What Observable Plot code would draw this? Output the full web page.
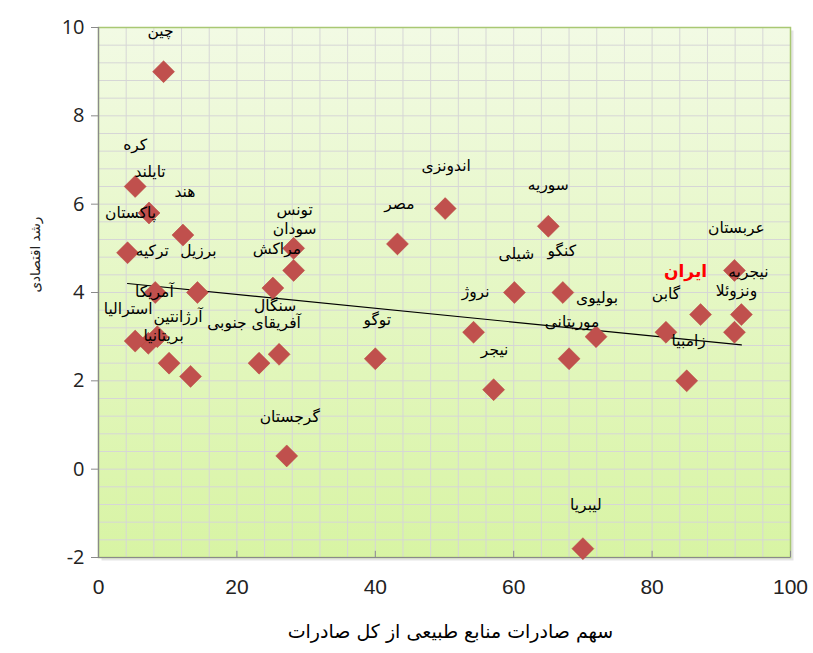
<!DOCTYPE html>
<html>
<head>
<meta charset="utf-8">
<script src="https://cdn.jsdelivr.net/npm/d3@7"></script>
<script src="https://cdn.jsdelivr.net/npm/@observablehq/plot@0.6"></script>
<style>
  html, body { margin: 0; padding: 0; background: #ffffff; }
  #chart svg { display: block; }
</style>
</head>
<body>
<div id="chart"></div>
<script>
// ---- data ----
const countries = ["چین","کره","تایلند","پاکستان","هند","ترکیه","برزیل","تونس","سودان","مراکش",
  "سنگال","آفریقای جنوبی","آرژانتین","بریتانیا","آمریکا","استرالیا","","گرجستان","توگو","مصر",
  "اندونزی","نروژ","نیجر","سوریه","شیلی","کنگو","بولیوی","موریتانی","لیبریا","عربستان",
  "نیجریه","ونزوئلا","ایران","گابن","زامبیا"];
const exportShare = [9.4,5.3,7.3,4.2,12.2,8.2,14.3,28.2,28.2,25.2,
  26.1,23.2,10.2,13.3,7.2,5.3,8.5,27.2,40.0,43.2,
  50.1,54.2,57.1,65.0,60.1,67.1,71.9,68.0,70.0,91.9,
  92.9,91.9,87.0,82.0,85.0];
const growth = [9.0,6.4,5.8,4.9,5.3,4.0,4.0,5.0,4.5,4.1,
  2.6,2.4,2.4,2.1,2.85,2.9,3.0,0.3,2.5,5.1,
  5.9,3.1,1.8,5.5,4.0,4.0,3.0,2.5,-1.8,4.5,
  3.5,3.1,3.5,3.1,2.0];
// label offsets (pixels) from each point, as placed in the reference
const labelDx = [-3,0,1,3,2,-3,1,1,1,4, -4,-5,9,-27,6,-7,0,3,2,2, 1,2,1,0,2,-1,1,3,3,2, 7,2,-15,0,2];
const labelDy = [-41,-41,-41,-40,-43,-41,-41,-38,-41,-39, -48,-40,-46,-40,-51,-32,-40,-39,-39,-40, -43,-40,-40,-41,-38,-41,-39,-37,-44,-42, -43,-41,-43,-38,-40];
const xTicks = [0,20,40,60,80,100];
const yTicks = [-2,0,2,4,6,8,10];
const xTitle = "سهم صادرات منابع طبیعی از کل صادرات";
const yTitle = "رشد اقتصادی";
const highlight = "ایران";

const data = countries.map((c, i) => ({country: c, x: exportShare[i], y: growth[i], dx: labelDx[i], dy: labelDy[i]}));

const xDomain = [0, 100], yDomain = [-2, 10];
const arabicFont = "'DejaVu Sans', 'Noto Sans', sans-serif";

const labelMarks = data.filter(d => d.country).map(d => Plot.text([d], {
  x: "x", y: "y", text: "country", dx: d.dx, dy: d.dy,
  fontSize: d.country === highlight ? 17 : 15.5,
  fontWeight: d.country === highlight ? "bold" : "normal",
  fill: d.country === highlight ? "#ff0000" : "#000000",
  fontFamily: arabicFont
}));

const chart = Plot.plot({
  width: 813, height: 653,
  marginLeft: 98, marginRight: 23, marginTop: 27, marginBottom: 96,
  x: {domain: xDomain},
  y: {domain: yDomain},
  style: {background: "transparent", fontFamily: arabicFont},
  marks: [
    Plot.frame({fill: "#000", fillOpacity: 0.10, dx: 3, dy: 3}),
    Plot.frame({fill: "url(#plotbg)"}),
    Plot.ruleX(d3.range(4, 100, 4), {stroke: "#d6d6d6", strokeWidth: 1}),
    Plot.ruleY(d3.range(-1.6, 10, 0.4), {stroke: "#d6d6d6", strokeWidth: 1}),
    Plot.frame({stroke: "#a9c873", strokeWidth: 1.5}),
    Plot.ruleX([0], {stroke: "#8a8a8a", strokeWidth: 1.2}),
    Plot.ruleY([-2], {stroke: "#8a8a8a", strokeWidth: 1.2}),
    Plot.ruleX(xTicks, {y1: -2, y2: -1.86, stroke: "#8a8a8a"}),
    Plot.axisY({ticks: yTicks, tickFormat: d => String(d), tickSize: 7, tickPadding: 7, stroke: "#8a8a8a", fontSize: 20, fontFamily: "'Open Sans', sans-serif", fill: "#222", label: null}),
    Plot.axisX({ticks: xTicks, tickFormat: d => String(d), tickSize: 0, tickPadding: 22, fontSize: 21, fontFamily: "'Liberation Sans Narrow', 'Liberation Sans', sans-serif", fill: "#222", label: null}),
    Plot.text([yTitle], {frameAnchor: "left", rotate: -90, dx: -63, fontSize: 13.5, fill: "#222"}),
    Plot.text([xTitle], {frameAnchor: "bottom", dx: 6, dy: 80, fontSize: 19, fill: "#000"}),
    Plot.linearRegressionY(data, {x: "x", y: "y", ci: 0, stroke: "#000", strokeWidth: 1.2}),
    Plot.dot(data, {x: "x", y: "y", symbol: "diamond2", r: 9.9, fill: "#c0504d", stroke: "#b8463f", strokeWidth: 0.5}),
    ...labelMarks
  ]
});

const ns = "http://www.w3.org/2000/svg";
const defs = document.createElementNS(ns, "defs");
defs.innerHTML = `<linearGradient id="plotbg" x1="0" y1="0" x2="0" y2="1">
  <stop offset="0%" stop-color="#f2fae4"/>
  <stop offset="100%" stop-color="#d8f4a4"/>
</linearGradient>`;
chart.insertBefore(defs, chart.firstChild);
document.getElementById("chart").appendChild(chart);
</script>
</body>
</html>
